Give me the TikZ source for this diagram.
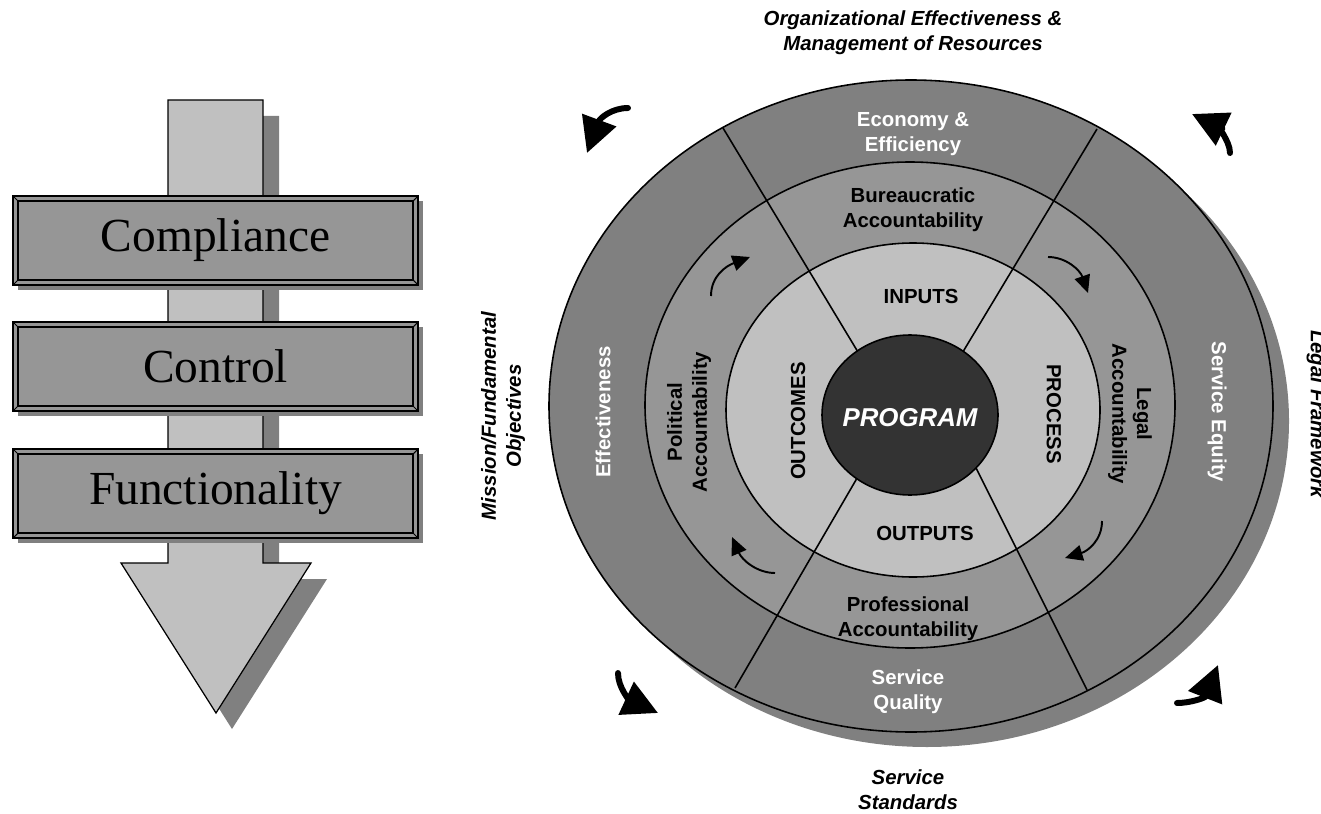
\documentclass[tikz,border=0pt]{standalone}
\usepackage{fontspec}
\setmainfont{Liberation Serif}
\setsansfont{Liberation Sans}
\usetikzlibrary{arrows.meta}
\definecolor{ringdark}{RGB}{128,128,128}
\definecolor{ringmid}{RGB}{150,150,150}
\definecolor{ringlight}{RGB}{192,192,192}
\definecolor{hubfill}{RGB}{51,51,51}

\begin{document}
\begin{tikzpicture}[x=0.02cm, y=-0.02cm, line width=0.9pt,
  lbl/.style={font=\sffamily\bfseries\fontsize{11.6}{14.2}\selectfont, align=center, inner sep=0pt},
  wlbl/.style={lbl, text=white},
  side/.style={lbl, font=\sffamily\bfseries\itshape\fontsize{11.6}{14.2}\selectfont},
  boxtext/.style={font=\fontsize{27}{30}\selectfont, inner sep=0pt},
  turn/.style={-{Triangle[length=10pt, width=9pt]}, line width=1.1pt},
  bigturn/.style={-{Triangle[length=20pt, width=20pt]}, line width=3.4pt, line cap=round}]
  \useasboundingbox (0,0) rectangle (1321,814);

  % left arrow
  \fill[ringdark] (184,116) -- (279,116) -- (279,579) -- (327,579) -- (232,729) -- (137,579) -- (184,579) -- cycle;
  \draw[line width=0.7pt, fill=ringlight] (168,100) -- (263,100) -- (263,563) -- (311,563) -- (216,713) -- (121,563) -- (168,563) -- cycle;
  \foreach \t/\name/\word in {196/comp/Compliance, 322/ctrl/Control, 449/func/Functionality} {
    \fill[ringdark] (18,\t+5) rectangle (423,\t+94);
    \draw[fill=ringmid] (13,\t) rectangle (418,\t+89);
    \draw[line width=0.6pt] (18,\t+5) rectangle (413,\t+84);
    \draw[line width=0.6pt] (13,\t) -- (18,\t+5) (418,\t) -- (413,\t+5) (13,\t+89) -- (18,\t+84) (418,\t+89) -- (413,\t+84);
    \node[boxtext] (\name) at (215.5,\t+44.5) {\word};
  }

  % rings
  \fill[ringdark] (927,421) ellipse [x radius=362, y radius=326];
  \draw[fill=ringdark] (911,406) ellipse [x radius=362, y radius=326];
  \draw[fill=ringmid] (910,405) ellipse [x radius=265, y radius=243];
  \draw[fill=ringlight] (913,410) ellipse [x radius=187, y radius=167];
  \draw (723,128) -- (870,372);
  \draw (1097,129) -- (952,370);
  \draw (735,688) -- (867,461);
  \draw (1087,690) -- (966,448);
  \draw[fill=hubfill] (910,415) ellipse [x radius=88, y radius=80];

  \node[wlbl, font=\sffamily\bfseries\itshape\fontsize{14.7}{16}\selectfont] (prog) at (910,418) {PROGRAM};
  \node[lbl] (inputs) at (921,296) {INPUTS};
  \node[lbl] (outputs) at (925,533) {OUTPUTS};
  \node[lbl, rotate=90] (outcomes) at (798,421) {OUTCOMES};
  \node[lbl, rotate=-90] (process) at (1054,414) {PROCESS};
  \node[lbl] (bureau) at (913,210) {Bureaucratic\\Accountability};
  \node[lbl] (prof) at (908,619) {Professional\\Accountability};
  \node[lbl, rotate=90] (polit) at (689,422) {Political\\Accountability};
  \node[lbl, rotate=-90] (legal) at (1130,414) {Legal\\Accountability};
  \node[wlbl] (econ) at (913,134) {Economy \&\\Efficiency};
  \node[wlbl] (quality) at (908,692) {Service\\Quality};
  \node[wlbl, rotate=90] (effect) at (603,412) {Effectiveness};
  \node[wlbl, rotate=-90] (equity) at (1217,412) {Service Equity};

  \node[side] (orgeff) at (913,33) {Organizational Effectiveness \&\\Management of Resources};
  \node[side] (standards) at (908,790) {Service\\Standards};
  \node[side, rotate=90] (mission) at (503,416) {Mission/Fundamental\\Objectives};
  \node[side, rotate=-90] (framework) at (1316,414) {Legal Framework};

  % inner turning arrows
  \draw[turn] (711,296) .. controls (711,276) and (726,266) .. (750,257);
  \draw[turn] (1048,257) .. controls (1066,257) and (1080,270) .. (1088,293);
  \draw[turn] (1102,521) .. controls (1102,540) and (1088,551) .. (1065,558);
  \draw[turn] (775,573) .. controls (757,573) and (742,560) .. (732,537);

  % outer turning arrows
  \draw[bigturn] (628,108) .. controls (612,108) and (600,118) .. (587,153);
  \draw[bigturn] (1230,153) .. controls (1230,140) and (1215,125) .. (1192,114);
  \draw[bigturn] (618,673) .. controls (618,688) and (630,700) .. (658,713);
  \draw[bigturn] (1177,703) .. controls (1190,703) and (1205,698) .. (1218,665);
\end{tikzpicture}
\end{document}
